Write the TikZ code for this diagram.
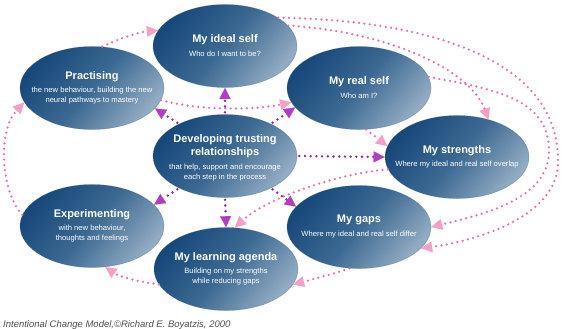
\documentclass[tikz,border=0pt]{standalone}
\usepackage{fontspec}
\setmainfont{Liberation Sans}
\usetikzlibrary{shapes.geometric,arrows.meta}
\definecolor{bdark}{HTML}{17487A}
\definecolor{bmid}{HTML}{3C6992}
\definecolor{blight}{HTML}{93ACC3}
\definecolor{pinkdot}{HTML}{E074B2}
\definecolor{pinkhead}{HTML}{F2A0C8}
\definecolor{purpdot}{HTML}{8A2AA0}
\definecolor{purphead}{HTML}{B23DC4}
\definecolor{captiongray}{HTML}{505050}
\newcommand\ttl[1]{{\fontsize{11}{13}\selectfont\bfseries #1}}
\begin{document}
\begin{tikzpicture}[x=1pt,y=-1pt,
  blob/.style={ellipse, minimum width=144pt, minimum height=83pt, inner sep=0pt,
    top color=bdark, bottom color=blight, middle color=bmid, shading angle=50,
    draw=bdark!60!gray, draw opacity=0.35, line width=0.6pt},
  txt/.style={text=white, align=center, inner sep=0pt, font=\fontsize{7.6}{10.5}\selectfont},
  pk/.style={draw=pinkdot, line width=2.5pt, line cap=round, dash pattern=on 0pt off 5.4pt,
    -{Triangle[length=11pt,width=11pt,line width=0.1pt,color=pinkhead]}},
  pu/.style={draw=purpdot, line width=2.7pt, line cap=round, dash pattern=on 0pt off 5.7pt,
    shorten <=2pt, -{Triangle[length=11pt,width=11pt,line width=0.1pt,color=purphead]}}]
\useasboundingbox (0,0) rectangle (565,329);
\fill[white] (0,0) rectangle (565,329);

\node[blob] (ideal) at (225,46) {};
\node[blob] (prac) at (92,88) {};
\node[blob] (real) at (359,88) {};
\node[blob] (dev) at (225,156) {};
\node[blob] (str) at (457,157) {};
\node[blob] (exp) at (92,226) {};
\node[blob] (agenda) at (226,269) {};
\node[blob] (gaps) at (359,227) {};

% pink cycle
\draw[pk] (prac.76) .. controls (120,38) and (140,32) .. (ideal.167);
\draw[pk] (prac.-10) .. controls (200,111) and (255,110) .. (real.192);
\draw[pk] (ideal.28) .. controls (430,20) and (558,60) .. (558,160) .. controls (560,215) and (480,240) .. (gaps.-19);
\draw[pk] (ideal.18) .. controls (390,32) and (470,70) .. (str.50);
\draw[pk] (real.9) .. controls (500,90) and (548,100) .. (549,150) .. controls (550,200) and (480,215) .. (gaps.east);
\draw[pk] (real.-80) -- (str.171);
\draw[pk] (str.190) .. controls (330,175) and (265,200) .. (agenda.78);
\draw[pk] (gaps.-103) .. controls (330,275) and (310,280) .. (agenda.-13);
\draw[pk] (agenda.193) .. controls (140,282) and (120,277) .. (exp.-72);
\draw[pk] (exp.171) .. controls (0,190) and (-2,130) .. (prac.192);

% purple from centre
\draw[pu] (dev.north) -- (ideal.south);
\draw[pu] (dev.145) -- (prac.-18);
\draw[pu] (dev.35) -- (real.-163);
\draw[pu] (dev.east) -- (str.west);
\draw[pu] (dev.215) -- (exp.19);
\draw[pu] (dev.south) -- (agenda.north);
\draw[pu] (dev.-35) -- (gaps.162);

% texts
\node[txt] (ideal-t) at (ideal) {\ttl{My ideal self}\\[3.5pt]Who do I want to be?};
\node[txt] (prac-t) at (prac) {\ttl{Practising}\\[2.5pt]the new behaviour, building the new\\neural pathways to mastery};
\node[txt] (real-t) at (real) {\ttl{My real self}\\[3.5pt]Who am I?};
\node[txt] (dev-t) at ([yshift=-2pt]dev.center) {\ttl{Developing trusting}\\[2.5pt]\ttl{relationships}\\[3.5pt]that help, support and encourage\\each step in the process};
\node[txt] (str-t) at (str) {\ttl{My strengths}\\[2.5pt]Where my ideal and real self overlap};
\node[txt] (exp-t) at (exp) {\ttl{Experimenting}\\[2.5pt]with new behaviour,\\thoughts and feelings};
\node[txt] (agenda-t) at (agenda) {\ttl{My learning agenda}\\[2.5pt]Building on my strengths\\while reducing gaps};
\node[txt] (gaps-t) at (gaps) {\ttl{My gaps}\\[3.5pt]Where my ideal and real self differ};

\node[anchor=base west, inner sep=0pt, text=captiongray, font=\fontsize{9.5}{11}\selectfont\itshape] (cap) at (3,327) {Intentional Change Model,©Richard E. Boyatzis, 2000};
\end{tikzpicture}
\end{document}
